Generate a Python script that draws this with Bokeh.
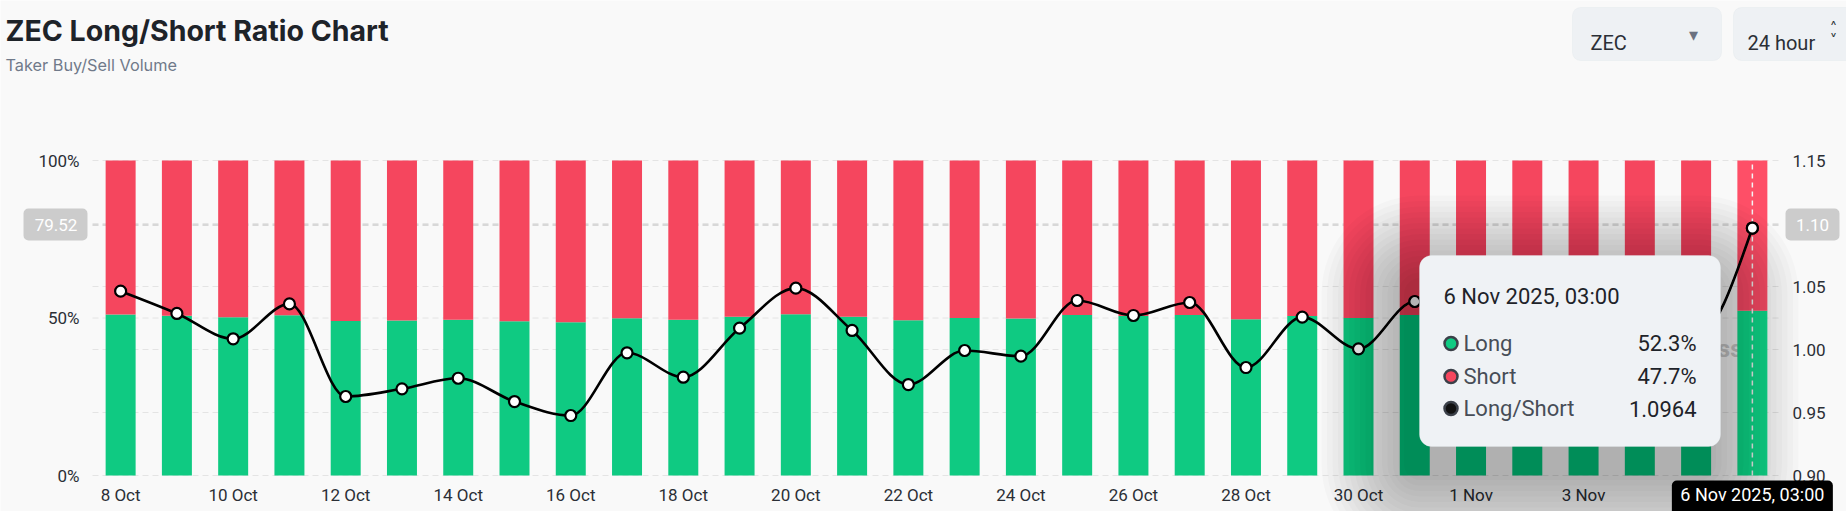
import numpy as np
from bokeh.plotting import figure
from bokeh.models import (ColumnDataSource, Range1d, LinearAxis, FixedTicker,
                          PrintfTickFormatter, BoxAnnotation, Label)
from bokeh.embed import file_html
from bokeh.resources import INLINE

# ---------------- data ----------------
dates = ["8 Oct", "9 Oct", "10 Oct", "11 Oct", "12 Oct", "13 Oct", "14 Oct", "15 Oct",
         "16 Oct", "17 Oct", "18 Oct", "19 Oct", "20 Oct", "21 Oct", "22 Oct", "23 Oct",
         "24 Oct", "25 Oct", "26 Oct", "27 Oct", "28 Oct", "29 Oct", "30 Oct", "31 Oct",
         "1 Nov", "2 Nov", "3 Nov", "4 Nov", "5 Nov", "6 Nov"]
long_pct = [51.13, 50.70, 50.21, 50.89, 49.05, 49.21, 49.42, 48.95, 48.65, 49.93,
            49.44, 50.42, 51.19, 50.37, 49.30, 49.98, 49.87, 50.95, 50.67, 50.92,
            49.64, 50.63, 50.01, 50.93, 50.12, 49.62, 50.37, 50.62, 50.25, 52.30]
short_pct = [48.87, 49.30, 49.79, 49.11, 50.95, 50.79, 50.58, 51.05, 51.35, 50.07,
             50.56, 49.58, 48.81, 49.63, 50.70, 50.02, 50.13, 49.05, 49.33, 49.08,
             50.36, 49.37, 49.99, 49.07, 49.88, 50.38, 49.63, 49.38, 49.75, 47.70]
ls_ratio = [1.0463, 1.0286, 1.0085, 1.0362, 0.9627, 0.9688, 0.9772, 0.9587, 0.9476, 0.9974,
            0.9780, 1.0169, 1.0487, 1.0151, 0.9722, 0.9992, 0.9947, 1.0389, 1.0270, 1.0373,
            0.9857, 1.0257, 1.0005, 1.0381, 1.0050, 0.9850, 1.0150, 1.0250, 1.0100, 1.0964]
pct_ticks = [0, 50, 100]
pct_labels = ["0%", "50%", "100%"]
ratio_ticks = [0.90, 0.95, 1.00, 1.05, 1.10, 1.15]

hover_index = 29
hover_label = "6 Nov 2025, 03:00"
crosshair_pct = 79.52
tooltip_long = "52.3%"
tooltip_short = "47.7%"
tooltip_ratio = "1.0964"

# ---------------- styles / geometry ----------------
GREEN, RED = "#0fca82", "#f5465e"
GREEN_H, RED_H = "#14dd8d", "#fe4f67"
BG = "#f9f9f9"
FONT = "Roboto"
W, H = 1846, 511
FL, FR, FT, FB = 92.0, 1780.0, 160.0, 475.0     # plot area in page pixels
N = len(dates)
BW = (FR - FL) / N
RMIN, RMAX = 0.90, 1.15


def X(px):
    return (px - FL) / BW - 0.5


def Y(py):
    return (FB - py) / (FB - FT) * 100.0


def to_ratio(pct):
    return RMIN + pct / 100.0 * (RMAX - RMIN)


def to_pct(r):
    return (r - RMIN) / (RMAX - RMIN) * 100.0


p = figure(width=W, height=H, x_range=Range1d(X(0), X(W)), y_range=Range1d(Y(H), Y(0)),
           output_backend="svg", toolbar_location=None, title=None, min_border=0,
           background_fill_color=BG, border_fill_color=BG, outline_line_color=None)
p.extra_y_ranges = {"ratio": Range1d(to_ratio(Y(H)), to_ratio(Y(0)))}
p.xgrid.visible = False
p.ygrid.visible = False


def style_axis(ax, standoff):
    ax.axis_line_color = None
    ax.major_tick_line_color = None
    ax.minor_tick_line_color = None
    ax.major_tick_out = 0
    ax.major_tick_in = 0
    ax.major_label_standoff = standoff
    ax.major_label_text_font = FONT
    ax.major_label_text_font_size = "17px"
    ax.major_label_text_color = "#2b2f36"


xa = p.xaxis[0]
xa.ticker = FixedTicker(ticks=list(range(0, N, 2)))
xa.major_label_overrides = {i: dates[i] for i in range(0, N, 2)}
xa.fixed_location = 0
style_axis(xa, 9)

ya = p.yaxis[0]
ya.ticker = FixedTicker(ticks=pct_ticks)
ya.major_label_overrides = {t: l for t, l in zip(pct_ticks, pct_labels)}
ya.fixed_location = -0.5
style_axis(ya, 13)

ra = LinearAxis(y_range_name="ratio", ticker=FixedTicker(ticks=ratio_ticks),
                formatter=PrintfTickFormatter(format="%.2f"), fixed_location=N - 0.5)
style_axis(ra, 12)
p.add_layout(ra, "right")

# grid lines (left-axis ticks and right-axis ticks), limited to the plot area
grid_pct = sorted(set(pct_ticks + [round(to_pct(r), 6) for r in ratio_ticks]))
gsrc = ColumnDataSource(dict(x0=[-0.5] * len(grid_pct), x1=[N - 0.5] * len(grid_pct),
                             y=grid_pct))
p.segment(x0="x0", x1="x1", y0="y", y1="y", source=gsrc, line_color="#e4e4e4",
          line_dash="6 4", line_width=1, level="underlay")

# watermark (under bars)
p.add_layout(Label(x=X(1742), y=Y(348), text="CoinGlass", text_font=FONT,
                   text_font_style="bold", text_font_size="24px", text_color="#cccccc",
                   text_align="right", text_baseline="middle", level="underlay"))

# horizontal crosshair (behind bars)
p.segment(x0=[-0.5], x1=[N - 0.5], y0=[crosshair_pct], y1=[crosshair_pct],
          line_color="#cdcdcd", line_dash="6 4", line_width=1.5, level="underlay")

# bars
idx = list(range(N))
gcol = [GREEN_H if i == hover_index else GREEN for i in idx]
rcol = [RED_H if i == hover_index else RED for i in idx]
total = [l + s for l, s in zip(long_pct, short_pct)]
src = ColumnDataSource(dict(x=idx, long=long_pct, total=total, gcol=gcol, rcol=rcol,
                            ratio=ls_ratio))
p.vbar(x="x", bottom=0, top="long", width=0.533, fill_color="gcol", line_color=None, source=src)
p.vbar(x="x", bottom="long", top="total", width=0.533, fill_color="rcol", line_color=None, source=src)

# vertical crosshair on the hovered bar
p.segment(x0=[hover_index], x1=[hover_index], y0=[0], y1=[100], line_color="#f4f4f4",
          line_dash="5 4", line_width=1.5)

# smooth ratio line (monotone cubic drawn as bezier segments)
xs = np.array(idx, dtype=float)
ys = np.array(ls_ratio, dtype=float)
h = np.diff(xs)
sl = np.diff(ys) / h
tan = np.zeros(N)
for i in range(1, N - 1):
    s0, s1 = sl[i - 1], sl[i]
    pp = (s0 * h[i] + s1 * h[i - 1]) / (h[i - 1] + h[i])
    tan[i] = (np.sign(s0) + np.sign(s1)) * min(abs(s0), abs(s1), 0.5 * abs(pp))
tan[0] = (3 * sl[0] - tan[1]) / 2
tan[-1] = (3 * sl[-1] - tan[-2]) / 2
d = h / 3
bsrc = ColumnDataSource(dict(x0=xs[:-1], y0=ys[:-1], x1=xs[1:], y1=ys[1:],
                             cx0=xs[:-1] + d, cy0=ys[:-1] + d * tan[:-1],
                             cx1=xs[1:] - d, cy1=ys[1:] - d * tan[1:]))
p.bezier(x0="x0", y0="y0", x1="x1", y1="y1", cx0="cx0", cy0="cy0", cx1="cx1", cy1="cy1",
         source=bsrc, y_range_name="ratio", line_color="#000000", line_width=2.6)
p.scatter(x="x", y="ratio", source=src, y_range_name="ratio", size=11,
          fill_color="white", line_color="#000000", line_width=2.2)
hsrc = ColumnDataSource(dict(x=[hover_index], y=[ls_ratio[hover_index]]))
p.scatter(x="x", y="y", source=hsrc, y_range_name="ratio", size=11, fill_color="white",
          line_color="#000000", line_width=2.2, level="overlay")

# tooltip shadow (offset down-left) + box
TL, TR, TT, TB = 1419.0, 1720.0, 255.0, 446.0
SDX, SDY = -10.0, 28.0
for k in range(16, 0, -1):
    pad = k * 5.5
    p.add_layout(BoxAnnotation(left=X(TL - pad + SDX), right=X(TR + pad + SDX),
                               top=Y(TT - pad + SDY), bottom=Y(TB + pad + SDY),
                               fill_color="black", fill_alpha=0.02,
                               line_color=None, border_radius=int(round(10 + pad))))
p.add_layout(BoxAnnotation(left=X(TL), right=X(TR), top=Y(TT), bottom=Y(TB),
                           fill_color="#eff2f5", fill_alpha=1.0, line_color="#e6eaee",
                           line_width=1, border_radius=12))
p.add_layout(Label(x=X(1443), y=Y(296), text=hover_label, text_font=FONT,
                   text_font_size="22px", text_color="#1e2329", text_baseline="middle"))
rows = [("Long", tooltip_long, GREEN, 343), ("Short", tooltip_short, RED, 376),
        ("Long/Short", tooltip_ratio, "#111111", 408)]
for name, val, col, py in rows:
    p.add_layout(Label(x=X(1463), y=Y(py), text=name, text_font=FONT, text_font_size="22px",
                       text_color="#474d57", text_baseline="middle"))
    p.add_layout(Label(x=X(1696), y=Y(py), text=val, text_font=FONT, text_font_size="22px",
                       text_color="#1e2329", text_baseline="middle", text_align="right"))
p.scatter(x=[X(1450.5)] * 3, y=[Y(r[3]) for r in rows], size=13,
          fill_color=[r[2] for r in rows], line_color="#3b4049", line_width=2.5,
          level="overlay")

# crosshair axis labels
p.add_layout(BoxAnnotation(left=X(23), right=X(87), top=Y(208), bottom=Y(240),
                           fill_color="#cccccc", fill_alpha=1, line_color=None, border_radius=5))
p.add_layout(Label(x=X(55.5), y=crosshair_pct, text=f"{crosshair_pct:.2f}", text_font=FONT,
                   text_font_size="17px", text_color="white", text_align="center",
                   text_baseline="middle"))
p.add_layout(BoxAnnotation(left=X(1785), right=X(1839), top=Y(208), bottom=Y(240),
                           fill_color="#cccccc", fill_alpha=1, line_color=None, border_radius=5))
p.add_layout(Label(x=X(1812), y=crosshair_pct, text=f"{to_ratio(crosshair_pct):.2f}",
                   text_font=FONT, text_font_size="17px", text_color="white",
                   text_align="center", text_baseline="middle"))
p.add_layout(BoxAnnotation(left=hover_index - 80.5 / BW, right=hover_index + 80.5 / BW,
                           top=Y(480), bottom=Y(520), fill_color="black", fill_alpha=1,
                           line_color=None, border_radius=5))
p.add_layout(Label(x=hover_index, y=Y(493.5), text=hover_label, text_font=FONT,
                   text_font_size="18px", text_color="white", text_align="center",
                   text_baseline="middle"))

# header
p.add_layout(Label(x=X(5), y=Y(29.5), text="ZEC Long/Short Ratio Chart", text_font="Inter",
                   text_font_style="bold", text_font_size="28.5px", text_color="#1e2329",
                   text_baseline="alphabetic"))
p.add_layout(Label(x=X(5), y=Y(64.5), text="Taker Buy/Sell Volume", text_font="Inter",
                   text_font_size="16.3px", text_color="#707a8a", text_baseline="alphabetic"))
p.add_layout(BoxAnnotation(left=X(1572), right=X(1721), top=Y(7), bottom=Y(60),
                           fill_color="#eef1f4", fill_alpha=1, line_color="#dde3e8",
                           line_width=1, border_radius=8))
p.add_layout(BoxAnnotation(left=X(1733), right=X(1880), top=Y(7), bottom=Y(60),
                           fill_color="#eef1f4", fill_alpha=1, line_color="#dde3e8",
                           line_width=1, border_radius=8))
p.add_layout(Label(x=X(1590), y=Y(42.5), text="ZEC", text_font=FONT, text_font_size="20px",
                   text_color="#2b2f36", text_baseline="alphabetic"))
p.add_layout(Label(x=X(1693), y=Y(34), text="\u25BE", text_font="DejaVu Sans",
                   text_font_size="18px", text_color="#6b7280", text_align="center",
                   text_baseline="middle"))
p.add_layout(Label(x=X(1747), y=Y(42.5), text="24 hour", text_font=FONT, text_font_size="20px",
                   text_color="#2b2f36", text_baseline="alphabetic"))
p.add_layout(Label(x=X(1833), y=Y(28), text="\u02C4", text_font="DejaVu Sans",
                   text_font_size="15px", text_color="#2b2f36", text_align="center",
                   text_baseline="middle"))
p.add_layout(Label(x=X(1833), y=Y(40), text="\u02C5", text_font="DejaVu Sans",
                   text_font_size="15px", text_color="#2b2f36", text_align="center",
                   text_baseline="middle"))

open("out.html", "w").write(file_html(p, INLINE))
